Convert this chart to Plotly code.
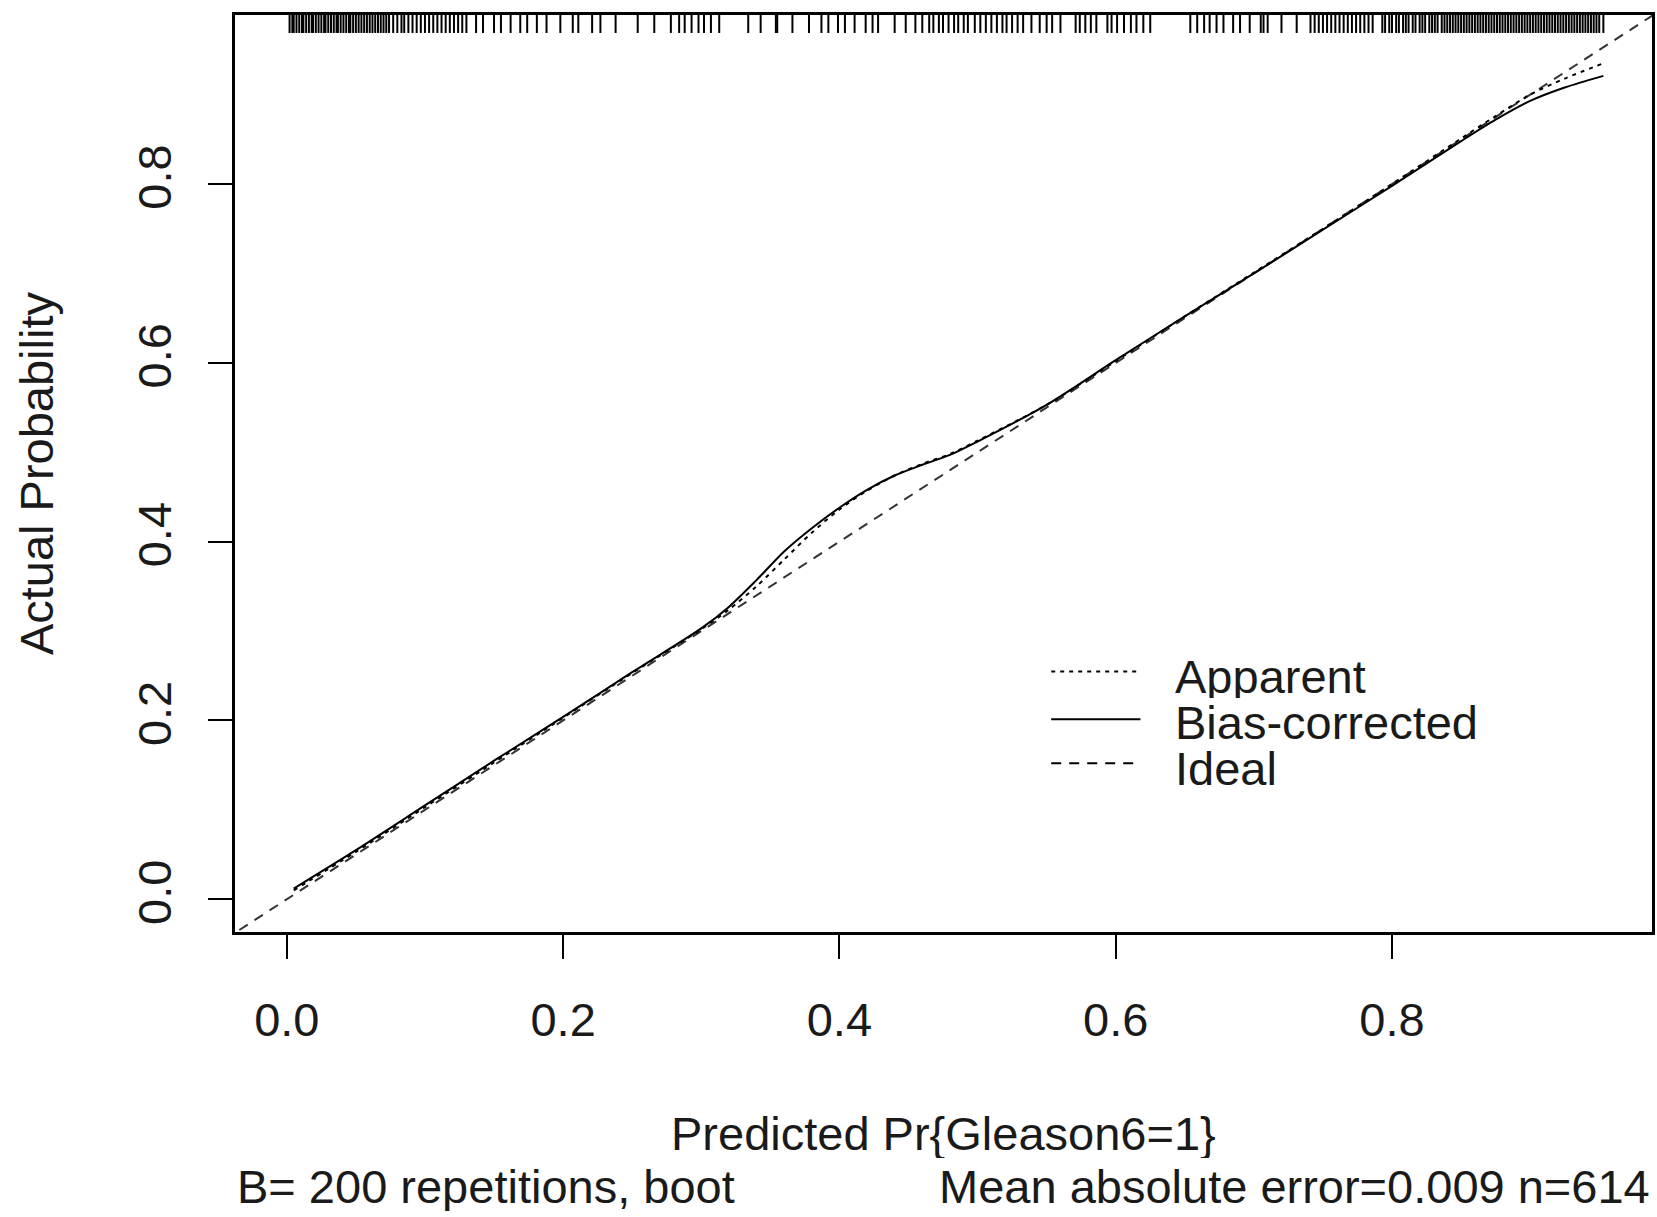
import plotly.graph_objects as go

# ---------------- data ----------------
pred_grid = [0.005, 0.05, 0.10, 0.15, 0.20, 0.25, 0.30, 0.32, 0.34, 0.36, 0.38, 0.40,
             0.42, 0.44, 0.46, 0.48, 0.50, 0.55, 0.60, 0.65, 0.70, 0.75, 0.80, 0.85,
             0.875, 0.90, 0.925, 0.953]
apparent = [0.010, 0.053, 0.103, 0.153, 0.203, 0.253, 0.302, 0.324, 0.350, 0.380, 0.410, 0.436,
            0.457, 0.474, 0.487, 0.498, 0.513, 0.553, 0.602, 0.652, 0.701, 0.750, 0.800, 0.851,
            0.876, 0.900, 0.918, 0.935]
bias_corrected = [0.012, 0.055, 0.105, 0.155, 0.204, 0.254, 0.303, 0.327, 0.357, 0.389, 0.415, 0.438,
                  0.458, 0.474, 0.486, 0.497, 0.512, 0.553, 0.603, 0.652, 0.700, 0.749, 0.798, 0.848,
                  0.872, 0.893, 0.908, 0.921]
ideal_x = [-0.1, 1.1]
ideal_y = [-0.1, 1.1]

# predicted probabilities shown as rug along the top (read approximately)
rug_values = [
    0.002, 0.004, 0.005, 0.007, 0.009, 0.011, 0.012, 0.014, 0.016, 0.018, 0.019, 0.021, 0.023,
    0.025, 0.027, 0.028, 0.030, 0.032, 0.034, 0.036, 0.037, 0.039, 0.041, 0.043, 0.045, 0.046,
    0.048, 0.050, 0.052, 0.054, 0.056, 0.058, 0.060, 0.062, 0.064, 0.066, 0.068, 0.070, 0.072,
    0.074, 0.077, 0.080, 0.083, 0.085, 0.088, 0.091, 0.094, 0.097, 0.100, 0.103, 0.106, 0.109,
    0.112, 0.115, 0.118, 0.121, 0.124, 0.127, 0.130, 0.137, 0.142, 0.150, 0.155, 0.162, 0.169,
    0.174, 0.181, 0.188, 0.198, 0.207, 0.211, 0.221, 0.227, 0.238, 0.254, 0.266, 0.278, 0.284,
    0.288, 0.293, 0.298, 0.302, 0.307, 0.313, 0.334, 0.343, 0.354, 0.355, 0.366, 0.378, 0.387,
    0.392, 0.399, 0.404, 0.411, 0.419, 0.424, 0.428, 0.440, 0.448, 0.455, 0.460, 0.465, 0.468,
    0.472, 0.475, 0.479, 0.483, 0.486, 0.490, 0.493, 0.498, 0.502, 0.506, 0.510, 0.514, 0.518,
    0.521, 0.525, 0.529, 0.533, 0.539, 0.545, 0.550, 0.554, 0.560, 0.571, 0.574, 0.578, 0.582,
    0.586, 0.594, 0.597, 0.601, 0.606, 0.611, 0.615, 0.620, 0.625, 0.654, 0.659, 0.664, 0.668,
    0.673, 0.678, 0.685, 0.690, 0.697, 0.705, 0.707, 0.710, 0.720, 0.731, 0.741, 0.744, 0.747,
    0.750, 0.753, 0.756, 0.759, 0.762, 0.765, 0.768, 0.771, 0.774, 0.777, 0.780, 0.783, 0.786,
    0.793, 0.795, 0.798, 0.800, 0.803, 0.805, 0.808, 0.810, 0.812, 0.815, 0.817, 0.820, 0.822,
    0.824, 0.827, 0.829, 0.831, 0.833, 0.836, 0.838, 0.840, 0.842, 0.844, 0.846, 0.848, 0.850,
    0.852, 0.854, 0.856, 0.858, 0.860, 0.862, 0.864, 0.866, 0.868, 0.870, 0.872, 0.874, 0.876,
    0.878, 0.880, 0.882, 0.884, 0.886, 0.888, 0.890, 0.892, 0.894, 0.896, 0.898, 0.900, 0.902,
    0.904, 0.906, 0.908, 0.910, 0.912, 0.914, 0.916, 0.918, 0.920, 0.922, 0.924, 0.926, 0.928,
    0.930, 0.932, 0.934, 0.936, 0.938, 0.940, 0.942, 0.944, 0.946, 0.948, 0.950, 0.953,
]
rug_bottom, rug_top = 0.969, 0.995

tick_vals = [0.0, 0.2, 0.4, 0.6, 0.8]
tick_text = ["0.0", "0.2", "0.4", "0.6", "0.8"]
legend_labels = ["Apparent", "Bias-corrected", "Ideal"]
x_title = "Predicted Pr{Gleason6=1}"
sub_left = "B= 200 repetitions, boot"
sub_right = "Mean absolute error=0.009 n=614"
y_title = "Actual Probability"

# ---------------- style ----------------
FONT = "Liberation Sans, Arial, sans-serif"
FS = 47
TXT = "#1a1a1a"
DOT = "4px,5px"
DASH = "10px,8px"

fig = go.Figure()

rx, ry = [], []
for v in rug_values:
    rx += [v, v, None]
    ry += [rug_bottom, rug_top, None]
fig.add_trace(go.Scatter(x=rx, y=ry, mode="lines", line=dict(color="black", width=2),
                         showlegend=False, hoverinfo="skip"))

fig.add_trace(go.Scatter(x=ideal_x, y=ideal_y, mode="lines",
                         line=dict(color="#333333", width=2, dash=DASH), showlegend=False))
fig.add_trace(go.Scatter(x=pred_grid, y=apparent, mode="lines",
                         line=dict(color="black", width=2, dash=DOT, shape="spline", smoothing=0.8),
                         showlegend=False))
fig.add_trace(go.Scatter(x=pred_grid, y=bias_corrected, mode="lines",
                         line=dict(color="black", width=2, shape="spline", smoothing=0.8),
                         showlegend=False))

axis_common = dict(
    showgrid=False, zeroline=False, showline=True, linecolor="black", linewidth=2.5,
    mirror=True, ticks="outside", ticklen=24, tickwidth=2, tickcolor="black",
    tickvals=tick_vals, ticktext=tick_text, automargin=False,
    tickfont=dict(family=FONT, size=FS, color=TXT),
)
fig.update_xaxes(range=[-0.0375, 0.9882], ticklabelstandoff=21, **axis_common)
fig.update_yaxes(range=[-0.0366, 0.9891], tickangle=-90, ticklabelstandoff=18, **axis_common)

# legend drawn manually (R style, no box)
leg_line_y = [0.284, 0.232, 0.184]
leg_text_y = [0.279, 0.229, 0.179]
leg_dash = [DOT, "solid", DASH]
for yy, d in zip(leg_line_y, leg_dash):
    fig.add_shape(type="line", xref="paper", yref="paper", x0=0.576, x1=0.639, y0=yy, y1=yy,
                  line=dict(color="black", width=2, dash=d))
for lab, yy in zip(legend_labels, leg_text_y):
    fig.add_annotation(text=lab, xref="paper", yref="paper", x=0.662, y=yy,
                       xanchor="left", yanchor="middle", showarrow=False, height=44,
                       font=dict(family=FONT, size=FS, color=TXT))

fig.add_annotation(text=x_title, xref="paper", yref="paper", x=0.5, y=-0.219,
                   xanchor="center", yanchor="middle", showarrow=False, height=50,
                   font=dict(family=FONT, size=FS, color=TXT))
fig.add_annotation(text=sub_left, xref="paper", yref="paper", x=0.0, y=-0.2770,
                   xanchor="left", yanchor="middle", showarrow=False, height=50,
                   font=dict(family=FONT, size=FS, color=TXT))
fig.add_annotation(text=sub_right, xref="paper", yref="paper", x=1.0, y=-0.2770,
                   xanchor="right", yanchor="middle", showarrow=False, height=50,
                   font=dict(family=FONT, size=FS, color=TXT))
fig.add_annotation(text=y_title, xref="paper", yref="paper", x=-0.140, y=0.5,
                   xanchor="center", yanchor="middle", textangle=-90, showarrow=False,
                   font=dict(family=FONT, size=FS, color=TXT))

fig.update_layout(
    width=1657, height=1217,
    margin=dict(l=235, r=5, t=15, b=285),
    paper_bgcolor="white", plot_bgcolor="white",
    showlegend=False,
)

fig.write_html("out.html", config={"displayModeBar": False},
               post_script="document.body.style.margin='0px';")
